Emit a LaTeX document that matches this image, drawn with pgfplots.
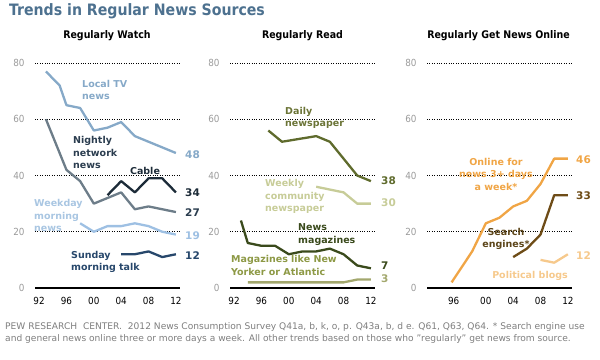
\documentclass[border=0pt]{standalone}
\usepackage{fontspec}
\setmainfont{DejaVu Sans}
\newfontfamily\condfont{DejaVu Sans Condensed}
\usepackage{pgfplots}
\pgfplotsset{compat=1.18}
\definecolor{titlec}{HTML}{4D718F}
\definecolor{localtv}{HTML}{86A9C8}
\definecolor{nightly}{HTML}{6D7D89}
\definecolor{nightlytxt}{HTML}{2B3D4F}
\definecolor{cable}{HTML}{1C2B38}
\definecolor{weekday}{HTML}{9EC0E3}
\definecolor{weekdaytxt}{HTML}{A9C6E2}
\definecolor{sunday}{HTML}{27476B}
\definecolor{daily}{HTML}{5F6B2D}
\definecolor{dailytxt}{HTML}{6B7436}
\definecolor{weekly}{HTML}{C7CC98}
\definecolor{newsmag}{HTML}{3A4A1C}
\definecolor{maglike}{HTML}{A3A86E}
\definecolor{magliketxt}{HTML}{8D9945}
\definecolor{online}{HTML}{F0A545}
\definecolor{search}{HTML}{6E4C17}
\definecolor{searchtxt}{HTML}{5C4519}
\definecolor{blogs}{HTML}{F6C98C}
\definecolor{ticky}{HTML}{9A9A9A}
\definecolor{foot}{HTML}{7E7E7E}
\pgfplotsset{panel/.style={
  scale only axis, width=145pt, height=225pt, anchor=south west,
  xmin=1991.4, xmax=2012.6, ymin=0, ymax=80,
  ytick={0,20,40,60,80},
  axis x line*=bottom, axis y line*=left,
  y axis line style={draw=none},
  x axis line style={black, line width=1.3pt},
  major tick length=0pt,
  ymajorgrids, major grid style={black, dotted, line width=0.7pt},
  tick label style={font=\condfont\fontsize{9.8}{10}\selectfont},
  yticklabel style={text=ticky, xshift=-7pt},
  xticklabel style={yshift=-6pt},
  /pgf/number format/assume math mode=true,
  clip=false,
  every axis plot/.append style={line width=2.3pt, line join=round, no markers},
}}
\begin{document}
\begin{tikzpicture}
\useasboundingbox (0,0) rectangle (600pt,359pt);
% Panel 1
\begin{axis}[panel, at={(35pt,71pt)},
  xtick={1992,1996,2000,2004,2008,2012}, xticklabels={92,96,00,04,08,12}]
\addplot[localtv] coordinates {(1993,77)(1995,72)(1996,65)(1998,64)(2000,56)(2002,57)(2004,59)(2006,54)(2008,52)(2010,50)(2012,48)};
\addplot[nightly] coordinates {(1993,60)(1996,42)(1998,38)(2000,30)(2002,32)(2004,34)(2006,28)(2008,29)(2010,28)(2012,27)};
\addplot[cable] coordinates {(2002,33)(2004,38)(2006,34)(2008,39)(2010,39)(2012,34)};
\addplot[weekday] coordinates {(1998,23)(2000,20)(2002,22)(2004,22)(2006,23)(2008,22)(2010,20)(2012,19)};
\addplot[sunday] coordinates {(2004,12)(2006,12)(2008,13)(2010,11)(2012,12)};
\end{axis}
% Panel 2
\begin{axis}[panel, at={(230pt,71pt)},
  xtick={1992,1996,2000,2004,2008,2012}, xticklabels={92,96,00,04,08,12}]
\addplot[daily] coordinates {(1997,56)(1999,52)(2004,54)(2006,52)(2010,40)(2012,38)};
\addplot[weekly] coordinates {(2004,36)(2006,35)(2008,34)(2010,30)(2012,30)};
\addplot[newsmag] coordinates {(1993,24)(1994,16)(1996,15)(1998,15)(2000,12)(2002,13)(2004,13)(2006,14)(2008,12)(2010,8)(2012,7)};
\addplot[maglike] coordinates {(1994,2)(2008,2)(2010,3)(2012,3)};
\end{axis}
% Panel 3
\begin{axis}[panel, at={(427pt,71pt)},
  xtick={1995.3,2000,2004,2008,2012}, xticklabels={96,00,04,08,12}]
\addplot[online] coordinates {(1995,2)(1998,13)(2000,23)(2002,25)(2004,29)(2006,31)(2008,37)(2010,46)(2012,46)};
\addplot[search] coordinates {(2004,11)(2006,14)(2008,19)(2010,33)(2012,33)};
\addplot[blogs] coordinates {(2008,10)(2010,9)(2012,12)};
\end{axis}
\begin{scope}[yshift=359pt, x=1pt, y=-1pt]
\node[anchor=base west, text=titlec, font=\condfont\bfseries\fontsize{15.7}{17}\selectfont, inner sep=0pt] at (9,15.5) {Trends in Regular News Sources};
\tikzset{pt/.style={font=\condfont\bfseries\fontsize{10.5}{12}\selectfont, inner sep=0pt, anchor=base}}
\node[pt] at (107,39) {Regularly Watch};
\node[pt] at (302.5,39) {Regularly Read};
\node[pt] at (498.5,39) {Regularly Get News Online};
\tikzset{lb/.style={font=\bfseries\fontsize{9.5}{12.5}\selectfont, inner sep=0pt, align=left, anchor=west},
         lc/.style={font=\bfseries\fontsize{9.5}{12.5}\selectfont, inner sep=0pt, align=center, anchor=center},
         vl/.style={font=\bfseries\fontsize{10.5}{12}\selectfont, inner sep=0pt, anchor=west}}
% panel 1 labels
\node[lb, text=localtv] at (82,90) {Local TV\\news};
\node[lb, text=nightlytxt] at (73,152.5) {Nightly\\network\\news};
\node[lc, text=cable] at (145,171) {Cable};
\node[lb, text=weekdaytxt] at (34,215.5) {Weekday\\morning\\news};
\node[lb, text=sunday] at (71,262) {Sunday\\morning talk};
\node[vl, text=localtv] at (185,155) {48};
\node[vl, text=cable] at (185,193) {34};
\node[vl, text=nightlytxt] at (185,213) {27};
\node[vl, text=weekday] at (185,236) {19};
\node[vl, text=sunday] at (185,256) {12};
% panel 2 labels
\node[lb, text=dailytxt] at (285,118) {Daily\\newspaper};
\node[lb, text=weekly] at (265,196.5) {Weekly\\community\\newspaper};
\node[lb, text=newsmag] at (298,234.5) {News\\magazines};
\node[lb, text=magliketxt] at (231,265.5) {Magazines like New\\Yorker or Atlantic};
\node[vl, text=daily] at (381,181) {38};
\node[vl, text=weekly] at (381,203) {30};
\node[vl, text=newsmag] at (381,266) {7};
\node[vl, text=maglike] at (381,279) {3};
% panel 3 labels
\node[lc, text=online] at (496,174) {Online for\\news 3+ days\\a week*};
\node[lc, text=searchtxt] at (506,239) {Search\\engines*};
\node[lc, text=blogs] at (530,276) {Political blogs};
\node[vl, text=online] at (576,160) {46};
\node[vl, text=search] at (576,196) {33};
\node[vl, text=blogs] at (576,256) {12};
% footnote
\tikzset{fn/.style={font=\fontsize{9.1}{10}\selectfont, text=foot, inner sep=0pt, anchor=base west}}
\node[fn] at (5,329) {PEW RESEARCH\ \ CENTER.\ \ 2012 News Consumption Survey Q41a, b, k, o, p. Q43a, b, d e. Q61, Q63, Q64. * Search engine use};
\node[fn] at (5,341) {and general news online three or more days a week. All other trends based on those who "regularly" get news from source.};
\end{scope}
\end{tikzpicture}
\end{document}
